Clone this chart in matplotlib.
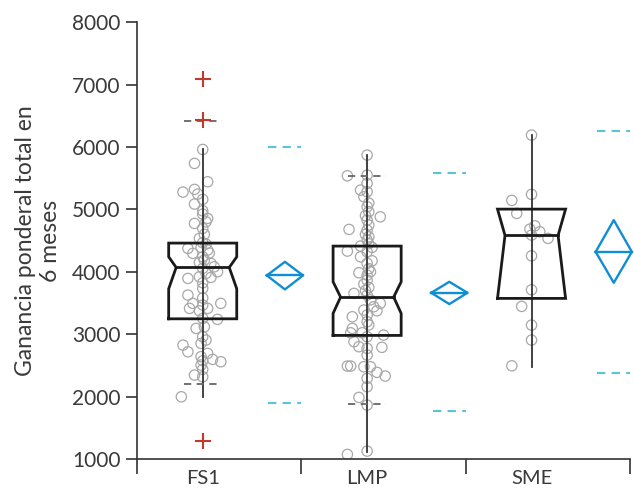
import matplotlib.pyplot as plt

plt.rcParams['font.family'] = ['Lato', 'DejaVu Sans']

groups = ['FS1', 'LMP', 'SME']

# box stats
q1 = [3247, 2981, 3574]
median = [4070, 3595, 4583]
q3 = [4460, 4412, 5004]
notch_lo = [3728, 3334, 3574]
notch_hi = [4240, 3840, 5004]
whisk_lo = [1990, 1117, 2469]
whisk_hi = [5960, 5870, 6190]
pct_lo = [2201, 1881, None]
pct_hi = [6414, 5538, None]
outliers = [[7087, 6430, 1288], [], []]

# mean diamonds and mean +/- 2 sd dashes
mean = [3942, 3664, 4320]
ci_lo = [3718, 3483, 3824]
ci_hi = [4160, 3840, 4828]
sd_lo = [1902, 1774, 2373]
sd_hi = [5993, 5581, 6254]

# raw points
fs1_vals = [5960, 5736, 5245, 5442, 5277, 5320, 5160, 5085, 4977, 4855, 4924, 4801,
            4775, 4695, 4600, 4535, 4465, 4444, 4375, 4391, 4348, 4300, 4295, 4240,
            4188, 4150, 4135, 4080, 4000, 4055, 3975, 3910, 3920, 3894, 3824, 3734,
            3627, 3580, 3494, 3494, 3467, 3414, 3414, 3376, 3254, 3238, 3093, 3120,
            2960, 2906, 2853, 2826, 2719, 2693, 2640, 2575, 2597, 2559, 2506, 2437,
            2346, 2318, 1998]
fs1_jit = [0, -0.05, -0.03, 0.03, -0.12, -0.05, 0, -0.05, 0, 0.03, 0, 0.02,
           -0.05, 0, 0.01, -0.02, 0, 0.02, -0.09, -0.01, 0.03, 0.04, -0.06, 0,
           0.01, -0.02, 0.05, 0.07, 0.09, 0, 0.02, 0.05, -0.02, -0.09, 0, 0,
           -0.09, 0, -0.06, 0.11, 0, -0.08, 0.03, -0.02, 0, 0.09, -0.04, 0.01,
           0, 0.02, -0.01, -0.12, -0.09, 0.03, -0.01, 0, 0.06, 0.11, -0.01, 0,
           -0.05, 0, -0.13]
lmp_vals = [5870, 5538, 5549, 5416, 5309, 5282, 5202, 5100, 5042, 4962, 4900, 4881,
            4828, 4748, 4679, 4668, 4600, 4561, 4508, 4450, 4412, 4391, 4332, 4320,
            4240, 4176, 4135, 4050, 4000, 3985, 3947, 3867, 3803, 3750, 3700, 3654,
            3627, 3550, 3494, 3440, 3387, 3376, 3307, 3280, 3200, 3150, 3093, 3023,
            3023, 2986, 2960, 2880, 2800, 2790, 2773, 2666, 2490, 2490, 2479, 2479,
            2389, 2330, 2293, 2158, 1988, 1865, 1075, 1128]
lmp_jit = [0, -0.12, 0, 0, -0.04, 0, -0.02, 0.01, 0, 0.01, -0.01, 0.08,
           0, 0.01, -0.11, 0, -0.01, 0.01, 0, 0.01, -0.04, 0.03, -0.12, 0,
           -0.04, 0.03, 0, 0.01, 0.02, -0.05, 0, 0, -0.02, 0.01, -0.01, -0.08,
           0, 0.02, 0.08, 0.04, -0.02, 0.06, 0, -0.09, 0, 0.01, -0.09, -0.1,
           -0.03, 0.1, 0, -0.08, -0.05, 0.09, 0, 0, -0.12, -0.1, -0.02, 0.02,
           0.06, 0.11, 0, 0, -0.05, 0, -0.12, 0]
sme_vals = [6190, 5240, 5144, 4936, 4737, 4684, 4641, 4588, 4535, 4256, 3712, 3446,
            3146, 2906, 2494]
sme_jit = [0, 0, -0.12, -0.09, 0.02, -0.01, 0.05, 0, 0.1, 0, 0, -0.06,
           0, 0, -0.12]
points = [fs1_vals, lmp_vals, sme_vals]
jitter = [fs1_jit, lmp_jit, sme_jit]

fig = plt.figure(figsize=(6.34, 4.91), dpi=100)
ax = fig.add_axes([0.216, 0.065, 0.778, 0.89])

txt = '#3a3a3a'
bw = 0.207   # box half width
nw = 0.78 * bw
for i in range(3):
    xb = i + 0.4
    xd = i + 0.9
    ax.scatter([xb + j for j in jitter[i]], points[i], s=55, facecolors='none',
               edgecolors='#a8a8a8', linewidths=0.9, zorder=2)
    ax.plot([xb, xb], [whisk_lo[i], whisk_hi[i]], color='#333333', lw=1.3, zorder=3)
    bx = [xb - bw, xb + bw, xb + bw, xb + nw, xb + bw, xb + bw, xb - bw, xb - bw,
          xb - nw, xb - bw, xb - bw]
    by = [q1[i], q1[i], notch_lo[i], median[i], notch_hi[i], q3[i], q3[i],
          notch_hi[i], median[i], notch_lo[i], q1[i]]
    ax.plot(bx, by, color='#1a1a1a', lw=2.0, zorder=4, solid_joinstyle='miter')
    ax.plot([xb - nw, xb + nw], [median[i], median[i]], color='#1a1a1a', lw=2.0, zorder=4)
    if pct_lo[i] is not None:
        for v in (pct_lo[i], pct_hi[i]):
            ax.plot([xb - 0.115, xb + 0.115], [v, v], color='#666666', lw=1.3,
                    dashes=(4, 3), zorder=3)
    if outliers[i]:
        ax.plot([xb] * len(outliers[i]), outliers[i], '+', color='#c0392b',
                ms=11, mew=1.5, zorder=5)
    for v in (sd_lo[i], sd_hi[i]):
        ax.plot([xd - 0.1, xd + 0.1], [v, v], color='#5bc3d6', lw=1.5,
                dashes=(4, 3), zorder=3, clip_on=False)
    dw = 0.11
    ax.plot([xd - dw, xd, xd + dw, xd, xd - dw], [mean[i], ci_hi[i], mean[i], ci_lo[i], mean[i]],
            color='#0f8ed4', lw=1.7, zorder=4, clip_on=False)
    ax.plot([xd - dw, xd + dw], [mean[i], mean[i]], color='#0f8ed4', lw=1.7,
            zorder=4, clip_on=False)

ax.set_xlim(0, 3)
ax.set_ylim(1000, 8000)
ax.set_yticks(range(1000, 8001, 1000))
ax.set_xticks([0, 1, 2, 3])
ax.set_xticklabels([])
ax.set_xticks([0.4, 1.4, 2.4], minor=True)
ax.set_xticklabels(groups, minor=True)
ax.tick_params(axis='x', which='major', length=11, width=1.2, color='#333333')
ax.tick_params(axis='x', which='minor', length=0, pad=8, labelsize=14.5, labelcolor=txt)
ax.tick_params(axis='y', length=8, width=1.2, color='#333333', labelsize=15,
               labelcolor=txt, pad=4)
for s in ('top', 'right'):
    ax.spines[s].set_visible(False)
for s in ('left', 'bottom'):
    ax.spines[s].set_color('#333333')
    ax.spines[s].set_linewidth(1.2)

ax.set_ylabel('Ganancia ponderal total en\n6 meses', fontsize=16.5, color=txt,
              linespacing=1.2, labelpad=8)

fig.savefig('out.png', dpi=100)
